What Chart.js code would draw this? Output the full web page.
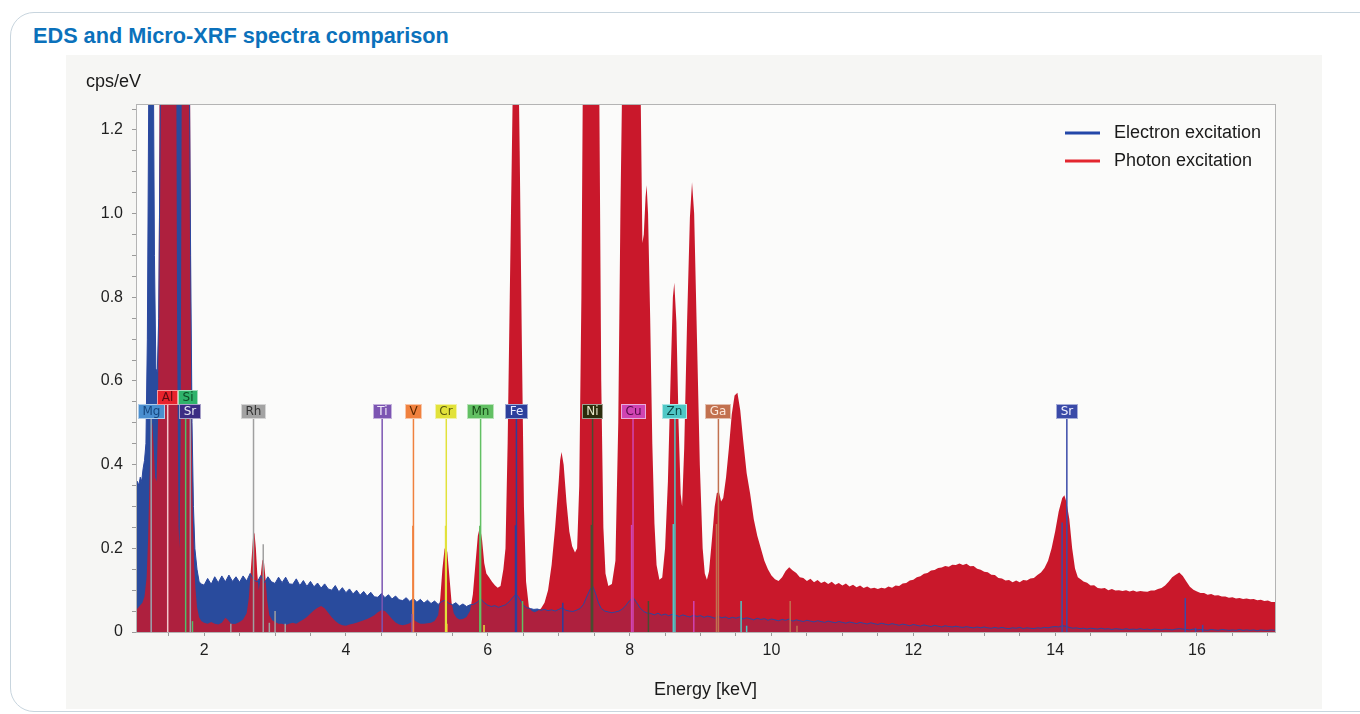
<!DOCTYPE html>
<html>
<head>
<meta charset="utf-8">
<title>EDS and Micro-XRF spectra comparison</title>
<script src="https://cdn.jsdelivr.net/npm/chart.js@4.4.1/dist/chart.umd.min.js"></script>
<style>
  html, body { margin: 0; padding: 0; background: #ffffff; }
  body { width: 1360px; height: 714px; overflow: hidden; position: relative; font-family: "Liberation Sans", Arial, sans-serif; }
  .card { position: absolute; left: 10px; top: 12px; width: 1400px; height: 698px; border: 1.5px solid #c8d5de; border-radius: 24px; }
  .title { position: absolute; left: 33px; top: 25px; font-size: 21.7px; line-height: 1; font-weight: bold; color: #0b71bb; white-space: nowrap; }
  .panel { position: absolute; left: 66px; top: 55px; width: 1256px; height: 654px; background: #f6f6f4; }
  .unit { position: absolute; left: 86px; top: 72px; font-size: 18px; line-height: 1; color: #1a1a1a; }
</style>
</head>
<body>
<div class="card"></div>
<div class="title">EDS and Micro-XRF spectra comparison</div>
<div class="panel"><canvas id="spectraChart"></canvas></div>
<div class="unit">cps/eV</div>

<script>
// Photon excitation (Micro-XRF), energy in keV and cps/eV
const photonEnergy = [
  1.04, 1.07, 1.10, 1.13, 1.16, 1.19, 1.21, 1.23, 1.25, 1.27,
  1.29, 1.31, 1.33, 1.35, 1.37, 1.39, 1.42, 1.46, 1.50, 1.54,
  1.57, 1.60, 1.62, 1.64, 1.655, 1.67, 1.69, 1.72, 1.75, 1.78,
  1.80, 1.82, 1.84, 1.86, 1.88, 1.90, 1.93, 1.96, 2.00, 2.05,
  2.10, 2.15, 2.20, 2.25, 2.30, 2.33, 2.38, 2.44, 2.50, 2.55,
  2.60, 2.63, 2.66, 2.69, 2.71, 2.73, 2.75, 2.77, 2.79, 2.82,
  2.84, 2.86, 2.89, 2.92, 2.96, 3.00, 3.05, 3.10, 3.15, 3.20,
  3.25, 3.30, 3.35, 3.40, 3.45, 3.50, 3.55, 3.60, 3.65, 3.70,
  3.75, 3.80, 3.85, 3.90, 3.95, 4.00, 4.05, 4.10, 4.15, 4.20,
  4.25, 4.30, 4.35, 4.40, 4.45, 4.50, 4.55, 4.60, 4.65, 4.70,
  4.75, 4.80, 4.85, 4.90, 4.95, 5.00, 5.05, 5.10, 5.15, 5.20,
  5.25, 5.30, 5.33, 5.36, 5.39, 5.41, 5.43, 5.46, 5.49, 5.52,
  5.56, 5.60, 5.65, 5.70, 5.75, 5.79, 5.83, 5.86, 5.89, 5.92,
  5.95, 5.98, 6.02, 6.06, 6.10, 6.14, 6.18, 6.22, 6.25, 6.28,
  6.31, 6.34, 6.37, 6.40, 6.43, 6.45, 6.48, 6.51, 6.54, 6.58,
  6.62, 6.66, 6.70, 6.75, 6.80, 6.85, 6.90, 6.95, 7.00, 7.02,
  7.04, 7.07, 7.11, 7.15, 7.19, 7.23, 7.26, 7.29, 7.32, 7.34,
  7.38, 7.45, 7.52, 7.56, 7.58, 7.60, 7.63, 7.66, 7.70, 7.75,
  7.80, 7.84, 7.87, 7.91, 7.95, 8.00, 8.05, 8.10, 8.13, 8.155,
  8.18, 8.20, 8.225, 8.24, 8.26, 8.29, 8.32, 8.35, 8.38, 8.42,
  8.46, 8.50, 8.54, 8.58, 8.61, 8.63, 8.66, 8.69, 8.72, 8.74,
  8.77, 8.81, 8.85, 8.88, 8.91, 8.95, 8.99, 9.03, 9.06, 9.09,
  9.12, 9.16, 9.20, 9.23, 9.26, 9.29, 9.32, 9.36, 9.40, 9.44,
  9.48, 9.52, 9.56, 9.60, 9.65, 9.70, 9.75, 9.80, 9.85, 9.90,
  9.95, 10.00, 10.05, 10.10, 10.15, 10.20, 10.25, 10.30, 10.35, 10.40,
  10.45, 10.50, 10.55, 10.60, 10.65, 10.70, 10.75, 10.80, 10.85, 10.90,
  10.95, 11.00, 11.05, 11.10, 11.15, 11.20, 11.25, 11.30, 11.35, 11.40,
  11.45, 11.50, 11.55, 11.60, 11.65, 11.70, 11.75, 11.80, 11.85, 11.90,
  11.95, 12.00, 12.05, 12.10, 12.15, 12.20, 12.25, 12.30, 12.35, 12.40,
  12.45, 12.50, 12.55, 12.60, 12.65, 12.70, 12.75, 12.80, 12.85, 12.90,
  12.95, 13.00, 13.05, 13.10, 13.15, 13.20, 13.25, 13.30, 13.35, 13.40,
  13.45, 13.50, 13.55, 13.60, 13.65, 13.70, 13.75, 13.80, 13.85, 13.90,
  13.95, 14.00, 14.05, 14.10, 14.13, 14.16, 14.20, 14.24, 14.28, 14.32,
  14.36, 14.40, 14.45, 14.50, 14.55, 14.60, 14.65, 14.70, 14.75, 14.80,
  14.85, 14.90, 14.95, 15.00, 15.05, 15.10, 15.15, 15.20, 15.25, 15.30,
  15.35, 15.40, 15.45, 15.50, 15.55, 15.60, 15.65, 15.70, 15.75, 15.80,
  15.85, 15.90, 15.95, 16.00, 16.05, 16.10, 16.15, 16.20, 16.25, 16.30,
  16.35, 16.40, 16.45, 16.50, 16.55, 16.60, 16.65, 16.70, 16.75, 16.80,
  16.85, 16.90, 16.95, 17.00, 17.05, 17.10
];
const photonCps = [
  0.052, 0.058, 0.064, 0.070, 0.085, 0.130, 0.220, 0.360, 0.470, 0.500,
  0.440, 0.370, 0.360, 0.500, 1.200, 2.600, 4.200, 5.000, 4.800, 4.000,
  3.000, 1.800, 0.700, 0.250, 0.200, 0.500, 1.600, 3.200, 3.600, 2.600,
  1.400, 0.550, 0.280, 0.160, 0.100, 0.060, 0.035, 0.026, 0.022, 0.020,
  0.024, 0.020, 0.018, 0.022, 0.034, 0.030, 0.020, 0.019, 0.024, 0.030,
  0.045, 0.080, 0.150, 0.225, 0.238, 0.200, 0.140, 0.100, 0.120, 0.170,
  0.175, 0.140, 0.075, 0.040, 0.028, 0.024, 0.020, 0.020, 0.017, 0.020,
  0.022, 0.020, 0.025, 0.030, 0.036, 0.044, 0.052, 0.058, 0.062, 0.057,
  0.046, 0.035, 0.026, 0.020, 0.016, 0.015, 0.018, 0.020, 0.022, 0.025,
  0.028, 0.031, 0.035, 0.040, 0.047, 0.052, 0.050, 0.041, 0.031, 0.023,
  0.018, 0.016, 0.018, 0.021, 0.030, 0.024, 0.020, 0.020, 0.021, 0.022,
  0.026, 0.040, 0.080, 0.150, 0.198, 0.206, 0.190, 0.130, 0.070, 0.045,
  0.034, 0.030, 0.031, 0.036, 0.050, 0.090, 0.170, 0.230, 0.252, 0.220,
  0.165, 0.140, 0.130, 0.120, 0.112, 0.106, 0.110, 0.150, 0.200, 0.450,
  0.800, 1.150, 1.500, 1.600, 1.400, 1.150, 0.700, 0.300, 0.120, 0.060,
  0.050, 0.047, 0.050, 0.056, 0.070, 0.100, 0.160, 0.250, 0.360, 0.410,
  0.430, 0.400, 0.310, 0.240, 0.205, 0.190, 0.200, 0.350, 0.800, 1.300,
  2.000, 3.000, 2.500, 1.600, 1.100, 0.600, 0.250, 0.140, 0.110, 0.115,
  0.170, 0.500, 1.000, 1.500, 2.500, 3.500, 4.000, 3.500, 2.200, 1.300,
  0.930, 0.950, 1.040, 1.068, 1.000, 0.750, 0.450, 0.260, 0.160, 0.125,
  0.130, 0.200, 0.360, 0.620, 0.800, 0.835, 0.740, 0.500, 0.330, 0.300,
  0.440, 0.740, 0.990, 1.075, 1.000, 0.700, 0.400, 0.200, 0.140, 0.125,
  0.145, 0.220, 0.300, 0.332, 0.334, 0.312, 0.320, 0.370, 0.440, 0.520,
  0.565, 0.572, 0.530, 0.460, 0.380, 0.330, 0.270, 0.230, 0.200, 0.170,
  0.150, 0.135, 0.126, 0.122, 0.131, 0.146, 0.155, 0.147, 0.141, 0.131,
  0.129, 0.122, 0.127, 0.119, 0.124, 0.117, 0.121, 0.115, 0.120, 0.113,
  0.117, 0.111, 0.116, 0.109, 0.113, 0.107, 0.111, 0.105, 0.109, 0.104,
  0.106, 0.103, 0.106, 0.104, 0.109, 0.106, 0.111, 0.110, 0.116, 0.117,
  0.123, 0.125, 0.131, 0.133, 0.139, 0.141, 0.147, 0.148, 0.153, 0.154,
  0.158, 0.156, 0.161, 0.160, 0.164, 0.160, 0.163, 0.157, 0.158, 0.151,
  0.149, 0.144, 0.143, 0.137, 0.136, 0.129, 0.128, 0.123, 0.124, 0.119,
  0.123, 0.119, 0.124, 0.123, 0.128, 0.129, 0.136, 0.142, 0.153, 0.170,
  0.200, 0.240, 0.288, 0.320, 0.327, 0.310, 0.270, 0.200, 0.152, 0.131,
  0.126, 0.121, 0.118, 0.111, 0.112, 0.105, 0.104, 0.105, 0.100, 0.103,
  0.099, 0.100, 0.098, 0.100, 0.097, 0.099, 0.096, 0.098, 0.097, 0.096,
  0.099, 0.099, 0.103, 0.105, 0.111, 0.120, 0.131, 0.137, 0.142, 0.134,
  0.121, 0.108, 0.101, 0.097, 0.093, 0.093, 0.089, 0.091, 0.087, 0.088,
  0.085, 0.085, 0.082, 0.083, 0.080, 0.081, 0.079, 0.080, 0.078, 0.079,
  0.076, 0.077, 0.074, 0.075, 0.072, 0.072
];

// Electron excitation (EDS)
const electronEnergy = [
  1.04, 1.06, 1.08, 1.10, 1.12, 1.14, 1.16, 1.18, 1.20, 1.22,
  1.25, 1.28, 1.30, 1.32, 1.34, 1.36, 1.39, 1.44, 1.50, 1.56,
  1.62, 1.65, 1.70, 1.75, 1.79, 1.81, 1.83, 1.85, 1.87, 1.90,
  1.93, 1.96, 2.00, 2.05, 2.10, 2.15, 2.20, 2.25, 2.30, 2.35,
  2.40, 2.45, 2.50, 2.55, 2.60, 2.65, 2.70, 2.75, 2.80, 2.85,
  2.90, 2.95, 3.00, 3.05, 3.10, 3.15, 3.20, 3.25, 3.30, 3.35,
  3.40, 3.45, 3.50, 3.55, 3.60, 3.65, 3.70, 3.75, 3.80, 3.85,
  3.90, 3.95, 4.00, 4.05, 4.10, 4.15, 4.20, 4.25, 4.30, 4.35,
  4.40, 4.45, 4.50, 4.55, 4.60, 4.65, 4.70, 4.75, 4.80, 4.85,
  4.90, 4.95, 5.00, 5.05, 5.10, 5.15, 5.20, 5.25, 5.30, 5.35,
  5.40, 5.45, 5.50, 5.55, 5.60, 5.65, 5.70, 5.75, 5.80, 5.85,
  5.90, 5.95, 6.00, 6.05, 6.10, 6.15, 6.20, 6.25, 6.30, 6.35,
  6.40, 6.45, 6.50, 6.55, 6.60, 6.65, 6.70, 6.75, 6.80, 6.85,
  6.90, 6.95, 7.00, 7.05, 7.10, 7.15, 7.20, 7.25, 7.30, 7.35,
  7.40, 7.45, 7.48, 7.52, 7.56, 7.60, 7.65, 7.70, 7.75, 7.80,
  7.85, 7.90, 7.95, 8.00, 8.05, 8.10, 8.15, 8.20, 8.25, 8.30,
  8.35, 8.40, 8.45, 8.50, 8.55, 8.60, 8.65, 8.70, 8.75, 8.80,
  8.85, 8.90, 8.95, 9.00, 9.05, 9.10, 9.15, 9.20, 9.25, 9.30,
  9.35, 9.40, 9.45, 9.50, 9.55, 9.60, 9.65, 9.70, 9.75, 9.80,
  9.85, 9.90, 9.95, 10.00, 10.05, 10.10, 10.15, 10.20, 10.25, 10.30,
  10.35, 10.40, 10.45, 10.50, 10.55, 10.60, 10.65, 10.70, 10.75, 10.80,
  10.85, 10.90, 10.95, 11.00, 11.05, 11.10, 11.15, 11.20, 11.25, 11.30,
  11.35, 11.40, 11.45, 11.50, 11.55, 11.60, 11.65, 11.70, 11.75, 11.80,
  11.85, 11.90, 11.95, 12.00, 12.05, 12.10, 12.15, 12.20, 12.25, 12.30,
  12.35, 12.40, 12.45, 12.50, 12.55, 12.60, 12.65, 12.70, 12.75, 12.80,
  12.85, 12.90, 12.95, 13.00, 13.05, 13.10, 13.15, 13.20, 13.25, 13.30,
  13.35, 13.40, 13.45, 13.50, 13.55, 13.60, 13.65, 13.70, 13.75, 13.80,
  13.85, 13.90, 13.95, 14.00, 14.05, 14.10, 14.15, 14.20, 14.25, 14.30,
  14.35, 14.40, 14.45, 14.50, 14.55, 14.60, 14.65, 14.70, 14.75, 14.80,
  14.85, 14.90, 14.95, 15.00, 15.05, 15.10, 15.15, 15.20, 15.25, 15.30,
  15.35, 15.40, 15.45, 15.50, 15.55, 15.60, 15.65, 15.70, 15.75, 15.80,
  15.85, 15.90, 15.95, 16.00, 16.05, 16.10, 16.15, 16.20, 16.25, 16.30,
  16.35, 16.40, 16.45, 16.50, 16.55, 16.60, 16.65, 16.70, 16.75, 16.80,
  16.85, 16.90, 16.95, 17.00, 17.05, 17.10
];
const electronCps = [
  0.340, 0.360, 0.350, 0.370, 0.360, 0.390, 0.410, 0.450, 0.700, 1.300,
  1.900, 1.500, 0.900, 0.630, 0.620, 0.750, 1.400, 2.200, 2.500, 2.200,
  1.700, 1.500, 1.900, 2.000, 1.400, 0.900, 0.500, 0.300, 0.200, 0.150,
  0.120, 0.115, 0.112, 0.128, 0.114, 0.132, 0.118, 0.134, 0.120, 0.136,
  0.121, 0.132, 0.119, 0.134, 0.122, 0.140, 0.124, 0.120, 0.135, 0.118,
  0.132, 0.120, 0.116, 0.131, 0.118, 0.131, 0.115, 0.114, 0.127, 0.111,
  0.123, 0.109, 0.121, 0.108, 0.117, 0.105, 0.115, 0.103, 0.100, 0.111,
  0.096, 0.106, 0.094, 0.103, 0.091, 0.100, 0.088, 0.097, 0.086, 0.095,
  0.084, 0.083, 0.092, 0.082, 0.089, 0.079, 0.086, 0.077, 0.075, 0.082,
  0.073, 0.080, 0.071, 0.078, 0.069, 0.076, 0.068, 0.074, 0.066, 0.073,
  0.076, 0.069, 0.065, 0.070, 0.062, 0.067, 0.061, 0.065, 0.066, 0.071,
  0.079, 0.070, 0.064, 0.061, 0.063, 0.059, 0.062, 0.065, 0.072, 0.082,
  0.091, 0.079, 0.064, 0.058, 0.056, 0.054, 0.055, 0.052, 0.054, 0.051,
  0.053, 0.050, 0.054, 0.058, 0.052, 0.050, 0.049, 0.052, 0.056, 0.066,
  0.086, 0.104, 0.110, 0.092, 0.070, 0.056, 0.050, 0.048, 0.046, 0.048,
  0.050, 0.055, 0.064, 0.075, 0.082, 0.070, 0.057, 0.049, 0.045, 0.044,
  0.041, 0.045, 0.040, 0.043, 0.039, 0.042, 0.040, 0.037, 0.041, 0.038,
  0.036, 0.040, 0.037, 0.039, 0.035, 0.038, 0.036, 0.033, 0.037, 0.034,
  0.036, 0.032, 0.035, 0.033, 0.036, 0.031, 0.034, 0.032, 0.029, 0.033,
  0.030, 0.032, 0.028, 0.031, 0.029, 0.027, 0.030, 0.028, 0.031, 0.026,
  0.029, 0.027, 0.025, 0.028, 0.026, 0.024, 0.027, 0.025, 0.023, 0.026,
  0.024, 0.022, 0.025, 0.023, 0.021, 0.024, 0.022, 0.020, 0.023, 0.021,
  0.019, 0.022, 0.020, 0.018, 0.021, 0.019, 0.017, 0.020, 0.018, 0.016,
  0.019, 0.017, 0.015, 0.018, 0.016, 0.014, 0.017, 0.015, 0.013, 0.016,
  0.014, 0.012, 0.015, 0.013, 0.012, 0.014, 0.012, 0.011, 0.013, 0.011,
  0.010, 0.012, 0.010, 0.012, 0.010, 0.009, 0.011, 0.009, 0.011, 0.009,
  0.008, 0.010, 0.009, 0.011, 0.008, 0.010, 0.009, 0.008, 0.010, 0.009,
  0.011, 0.010, 0.012, 0.013, 0.012, 0.015, 0.014, 0.011, 0.009, 0.010,
  0.008, 0.009, 0.007, 0.009, 0.008, 0.007, 0.009, 0.007, 0.008, 0.006,
  0.008, 0.007, 0.006, 0.008, 0.006, 0.007, 0.006, 0.008, 0.006, 0.007,
  0.005, 0.007, 0.006, 0.005, 0.007, 0.006, 0.005, 0.007, 0.008, 0.007,
  0.006, 0.005, 0.007, 0.005, 0.006, 0.005, 0.004, 0.006, 0.005, 0.004,
  0.006, 0.005, 0.004, 0.005, 0.004, 0.006, 0.004, 0.005, 0.004, 0.005,
  0.003, 0.005, 0.004, 0.004, 0.005, 0.004
];

// Element line markers (main line carries the label)
const elementNames = ["Mg", "Al", "Si", "Sr", "Rh", "Ti", "V", "Cr", "Mn", "Fe", "Ni", "Cu", "Zn", "Ga", "Sr"];
const elementEnergy = [1.254, 1.487, 1.740, 1.806, 2.697, 4.511, 4.952, 5.415, 5.899, 6.404, 7.478, 8.048, 8.639, 9.252, 14.165];
const elementTop = [0.51, 0.543, 0.543, 0.51, 0.51, 0.51, 0.51, 0.51, 0.51, 0.51, 0.51, 0.51, 0.51, 0.51, 0.51];

// secondary lines of the same elements (index into elementNames)
const minorEnergy = [1.836, 2.377, 2.834, 2.92, 3.001, 3.144, 4.932, 4.944, 5.405, 5.427, 5.888, 5.947, 6.391, 6.490, 7.058,
  7.461, 8.028, 8.265, 8.616, 8.905, 9.225, 9.572, 9.65, 10.264, 10.36, 14.098, 15.835, 15.98, 16.08];
const minorHeight = [0.026, 0.02, 0.21, 0.022, 0.05, 0.02, 0.043, 0.254, 0.254, 0.02, 0.254, 0.017, 0.255, 0.074, 0.07,
  0.256, 0.256, 0.074, 0.258, 0.074, 0.258, 0.074, 0.015, 0.074, 0.015, 0.262, 0.081, 0.01, 0.017];
const minorOf = [2, 4, 4, 4, 4, 4, 5, 6, 7, 6, 8, 7, 9, 8, 9, 10, 11, 10, 12, 11, 13, 12, 12, 13, 13, 14, 14, 14, 14];

const legendLabels = ["Electron excitation", "Photon excitation"];

// colours
const elementBox = ["#4a8fd0", "#e8222c", "#2fb36b", "#3a2c84", "#a3a3a3", "#7c55b2", "#f0813e", "#e2e23a", "#62c063", "#2c3f9c", "#2b2c0c", "#d044b2", "#4fc8c6", "#c2714f", "#3a4aa8"];
const elementText = ["#15467e", "#5a0a10", "#0d4a25", "#e6e6f2", "#333333", "#f0eaf8", "#5a2800", "#5a5a10", "#164a16", "#e8ecff", "#e6e6c8", "#560a48", "#0a4a48", "#fbe8dc", "#f2f2ff"];
const elementLine = ["#9aa6b0", "#f2c8cc", "#4fc06a", "#a0a0b0", "#a0a0a0", "#7c55b2", "#f0813e", "#e2e23a", "#62c063", "#2c3f9c", "#4a4c30", "#d044b2", "#4fc8c6", "#c2714f", "#3a4aa8"];
const blueFill = "#2a4c9c";
const redFill = "#c9182b";
const legendColors = ["#2347a8", "#e3262f"];

if (photonEnergy.length !== photonCps.length || electronEnergy.length !== electronCps.length) {
  throw new Error("series length mismatch " + photonEnergy.length + "/" + photonCps.length + " " + electronEnergy.length + "/" + electronCps.length);
}

const ctx = document.getElementById("spectraChart").getContext("2d");

const photonSeries = photonEnergy.map((e, i) => ({ x: e, y: photonCps[i] }));
const electronSeries = electronEnergy.map((e, i) => ({ x: e, y: electronCps[i] }));

const datasets = [];

elementEnergy.forEach((e, i) => {
  datasets.push({
    label: elementNames[i],
    data: [{ x: e, y: 0 }, { x: e, y: elementTop[i] }],
    borderColor: elementLine[i],
    borderWidth: 1.5,
    pointRadius: 0,
    fill: false,
    order: 0,
  });
});

minorEnergy.forEach((e, i) => {
  datasets.push({
    label: elementNames[minorOf[i]],
    data: [{ x: e, y: 0 }, { x: e, y: minorHeight[i] }],
    borderColor: elementLine[minorOf[i]],
    borderWidth: 1.5,
    pointRadius: 0,
    fill: false,
    order: 0,
  });
});

// blue line on top with a light tint, red fill in the middle, solid blue fill underneath
datasets.push({
  label: legendLabels[0],
  data: electronSeries,
  borderColor: "#2b47a0",
  borderWidth: 1,
  backgroundColor: "rgba(40,72,160,0.16)",
  fill: "origin",
  pointRadius: 0,
  order: 1,
});
datasets.push({
  label: legendLabels[1],
  data: photonSeries,
  borderColor: "rgba(0,0,0,0)",
  borderWidth: 0,
  backgroundColor: redFill,
  fill: "origin",
  pointRadius: 0,
  order: 2,
});
datasets.push({
  label: legendLabels[0] + " fill",
  data: electronSeries,
  borderColor: "rgba(0,0,0,0)",
  borderWidth: 0,
  backgroundColor: blueFill,
  fill: "origin",
  pointRadius: 0,
  order: 3,
});

const plotFrame = {
  id: "plotFrame",
  beforeDraw(chart) {
    const { ctx, chartArea: a } = chart;
    ctx.save();
    ctx.fillStyle = "#fbfbfa";
    ctx.fillRect(a.left, a.top, a.right - a.left, a.bottom - a.top);
    ctx.restore();
  },
  afterDatasetsDraw(chart) {
    const { ctx, chartArea: a } = chart;
    ctx.save();
    ctx.strokeStyle = "#b4b4b4";
    ctx.lineWidth = 1;
    ctx.strokeRect(Math.round(a.left) + 0.5, Math.round(a.top) + 0.5, Math.round(a.right - a.left), Math.round(a.bottom - a.top));
    ctx.restore();
  },
};

const elementLabels = {
  id: "elementLabels",
  afterDatasetsDraw(chart) {
    const { ctx, scales: { x, y } } = chart;
    ctx.save();
    ctx.font = '12px "DejaVu Sans", sans-serif';
    ctx.textAlign = "center";
    ctx.textBaseline = "middle";
    const lastRight = {};
    const h = 15;
    elementNames.forEach((name, i) => {
      const px = x.getPixelForValue(elementEnergy[i]);
      const bottom = Math.round(y.getPixelForValue(elementTop[i]));
      const w = Math.round(ctx.measureText(name).width + 9);
      let left = Math.round(px - w / 2);
      const row = elementTop[i];
      if (lastRight[row] !== undefined && left < lastRight[row]) left = lastRight[row];
      lastRight[row] = left + w;
      ctx.fillStyle = elementBox[i];
      ctx.fillRect(left, bottom - h, w, h);
      ctx.strokeStyle = "rgba(255,255,255,0.55)";
      ctx.lineWidth = 1;
      ctx.strokeRect(left + 0.5, bottom - h + 0.5, w - 1, h - 1);
      ctx.fillStyle = elementText[i];
      ctx.fillText(name, left + w / 2, bottom - h / 2 + 0.5);
    });
    ctx.restore();
  },
};

const insideLegend = {
  id: "insideLegend",
  afterDraw(chart) {
    const { ctx, chartArea: a } = chart;
    ctx.save();
    ctx.font = '18px "Liberation Sans", Arial, sans-serif';
    ctx.textBaseline = "middle";
    ctx.textAlign = "left";
    legendLabels.forEach((text, i) => {
      const yy = a.top + 29 + i * 28;
      ctx.strokeStyle = legendColors[i];
      ctx.lineWidth = 3;
      ctx.beginPath();
      ctx.moveTo(a.right - 210, yy);
      ctx.lineTo(a.right - 175, yy);
      ctx.stroke();
      ctx.fillStyle = "#1a1a1a";
      ctx.fillText(text, a.right - 161, yy);
    });
    ctx.restore();
  },
};

const tickFont = { family: '"Liberation Sans", Arial, sans-serif', size: 16 };

const spectraChart = new Chart(ctx, {
  type: "line",
  data: { datasets: datasets },
  options: {
    responsive: true,
    maintainAspectRatio: false,
    animation: false,
    layout: { padding: { top: 49, right: 47, bottom: 0, left: 0 } },
    elements: { line: { tension: 0 }, point: { radius: 0 } },
    plugins: {
      legend: { display: false },
      tooltip: { enabled: false },
    },
    scales: {
      x: {
        type: "linear",
        min: 1.04,
        max: 17.1,
        ticks: {
          stepSize: 0.5,
          includeBounds: false,
          autoSkip: false,
          maxRotation: 0,
          padding: 5,
          color: "#1f1f1f",
          font: tickFont,
          callback: (v) => {
            const r = Math.round(v);
            return Math.abs(v - r) < 1e-6 && r % 2 === 0 ? String(r) : "";
          },
        },
        grid: { drawOnChartArea: false, drawTicks: true, tickLength: 4, color: "#9a9a9a" },
        border: { display: true, color: "#a8a8a8" },
        title: {
          display: true,
          text: "Energy [keV]",
          color: "#1a1a1a",
          font: { family: '"Liberation Sans", Arial, sans-serif', size: 18 },
          padding: { top: 0, bottom: 8 },
        },
        afterFit: (scale) => { scale.height = 77; },
      },
      y: {
        min: 0,
        max: 1.262,
        ticks: {
          stepSize: 0.05,
          includeBounds: false,
          autoSkip: false,
          padding: 9,
          color: "#1f1f1f",
          font: tickFont,
          callback: (v) => {
            const k = Math.round(v / 0.2);
            if (Math.abs(v - k * 0.2) > 1e-6) return "";
            return k === 0 ? "0" : (k * 0.2).toFixed(1);
          },
        },
        grid: { drawOnChartArea: false, drawTicks: true, tickLength: 4, color: "#9a9a9a" },
        border: { display: true, color: "#a8a8a8" },
        afterFit: (scale) => { scale.width = 70; },
      },
    },
  },
  plugins: [plotFrame, elementLabels, insideLegend],
});
</script>
</body>
</html>
